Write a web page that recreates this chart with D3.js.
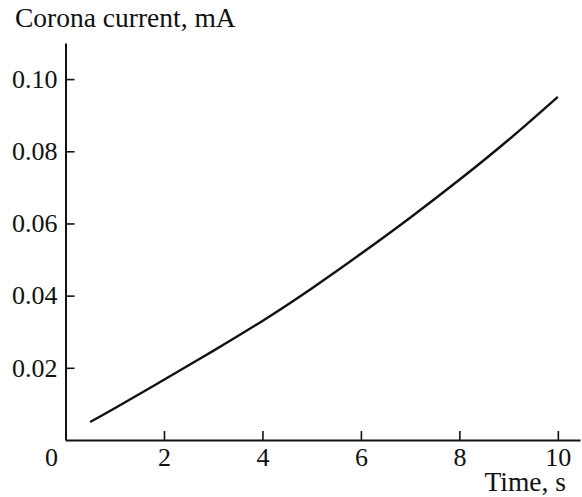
<!DOCTYPE html>
<html>
<head>
<meta charset="utf-8">
<script src="https://cdn.jsdelivr.net/npm/d3@7"></script>
<style>
  html, body { margin: 0; padding: 0; background: #fff; }
  svg { display: block; }
  text { font-family: "Liberation Serif", "Times New Roman", serif; fill: #111; }
</style>
</head>
<body>
<svg id="chart" width="582" height="497"></svg>
<script>
// Corona current versus time
const timeS = [0.5, 1, 2, 3, 4, 5, 6, 7, 8, 9, 10];
const currentMA = [0.0050, 0.0088, 0.0167, 0.0247, 0.0330, 0.0420, 0.0516, 0.0616, 0.0721, 0.0832, 0.0951];
const xTicks = [2, 4, 6, 8, 10];
const yTicks = [0.02, 0.04, 0.06, 0.08, 0.10];
const xDomain = [0, 10.45];
const yDomain = [0, 0.11];

const svg = d3.select("#chart");
const x = d3.scaleLinear().domain(xDomain).range([65.5, 580]);
const y = d3.scaleLinear().domain(yDomain).range([440, 43]);

const tickFont = 26;
const titleFont = 27.5;
const ink = "#111";

// x axis with inward ticks
const xAxis = svg.append("g").attr("transform", `translate(0,${y(0)})`)
  .call(d3.axisBottom(x).tickValues(xTicks).tickSizeInner(-9).tickSizeOuter(0).tickPadding(20)
    .tickFormat(d3.format("d")));
// y axis with inward ticks
const yAxis = svg.append("g").attr("transform", `translate(${x(0)},0)`)
  .call(d3.axisLeft(y).tickValues(yTicks).tickSizeInner(-9).tickSizeOuter(0).tickPadding(8)
    .tickFormat(d3.format(".2f")));

[xAxis, yAxis].forEach(g => {
  g.select(".domain").attr("stroke", ink).attr("stroke-width", 2);
  g.selectAll(".tick line").attr("stroke", ink).attr("stroke-width", 1.6);
  g.selectAll(".tick text")
    .style("font-family", '"Liberation Serif", "Times New Roman", serif')
    .style("font-size", tickFont + "px").attr("fill", ink);
});
xAxis.selectAll(".tick text").attr("dy", null).attr("y", 26);

// origin label
svg.append("text")
  .attr("x", x(0) - 14).attr("y", y(0) + 26)
  .attr("text-anchor", "middle")
  .style("font-size", tickFont + "px")
  .text("0");

// axis titles
svg.append("text")
  .attr("x", 15).attr("y", 27)
  .style("font-size", titleFont + "px")
  .text("Corona current, mA");
svg.append("text")
  .attr("x", 566).attr("y", 491)
  .attr("text-anchor", "end")
  .style("font-size", titleFont + "px")
  .text("Time, s");

// current curve
const line = d3.line().x((d, i) => x(timeS[i])).y(d => y(d)).curve(d3.curveNatural);
svg.append("path")
  .datum(currentMA)
  .attr("d", line)
  .attr("fill", "none")
  .attr("stroke", ink)
  .attr("stroke-width", 2.4);
</script>
</body>
</html>
